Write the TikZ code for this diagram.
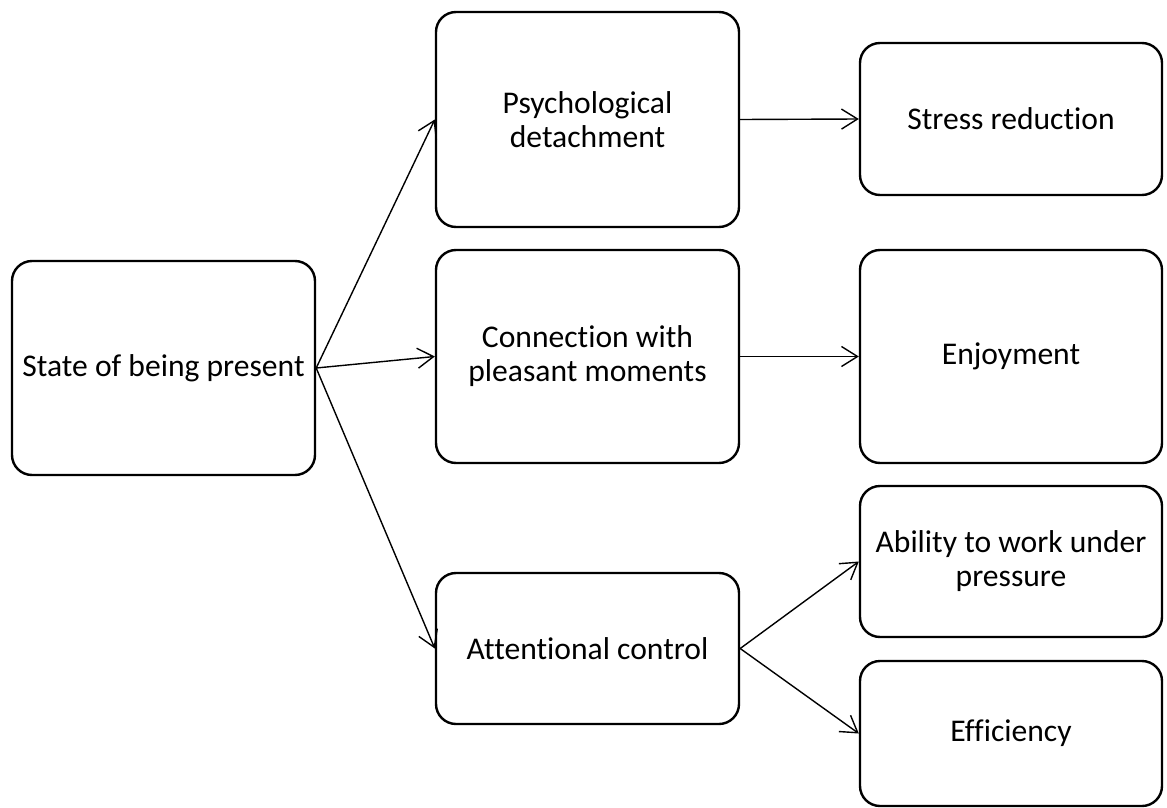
\documentclass[tikz,border=0pt]{standalone}
\usepackage{fontspec}
\setmainfont{Carlito}[Ligatures={NoCommon}]
\usetikzlibrary{arrows.meta}
\begin{document}
\begin{tikzpicture}[x=1pt,y=-1pt,
  box/.style={draw, line width=2.4pt, rounded corners=20pt, align=center,
    inner sep=0pt, font=\fontsize{31.6}{34}\selectfont},
  link/.style={line width=1.4pt, -{Straight Barb[length=16pt,width=20pt]}}]
\useasboundingbox (0,0) rectangle (1167,808);
% first column
\node[box, minimum width=303pt, minimum height=214pt] (present) at (163.5,368) {State of being present};
% second column
\node[box, minimum width=303pt, minimum height=215pt] (detach) at (587.5,119.5) {Psychological\\detachment};
\node[box, minimum width=303pt, minimum height=213pt] (connect) at (587.5,356.5) {Connection with\\pleasant moments};
\node[box, minimum width=303pt, minimum height=151pt] (attn) at (587.5,648.5) {Attentional control};
% third column
\node[box, minimum width=302pt, minimum height=152pt] (stress) at (1011,119) {Stress reduction};
\node[box, minimum width=302pt, minimum height=213pt] (enjoy) at (1011,356.5) {Enjoyment};
\node[box, minimum width=302pt, minimum height=151pt] (ability) at (1011,561.5) {Ability to work under\\pressure};
\node[box, minimum width=302pt, minimum height=145pt] (effic) at (1011,733.5) {Efficiency};
% connectors
\draw[link] (present.east) -- (detach.west);
\draw[link] (present.east) -- (connect.west);
\draw[link] (present.east) -- (attn.west);
\draw[link] (detach.east) -- (stress.west);
\draw[link] (connect.east) -- (enjoy.west);
\draw[link] (attn.east) -- (ability.west);
\draw[link] (attn.east) -- (effic.west);
\end{tikzpicture}
\end{document}
